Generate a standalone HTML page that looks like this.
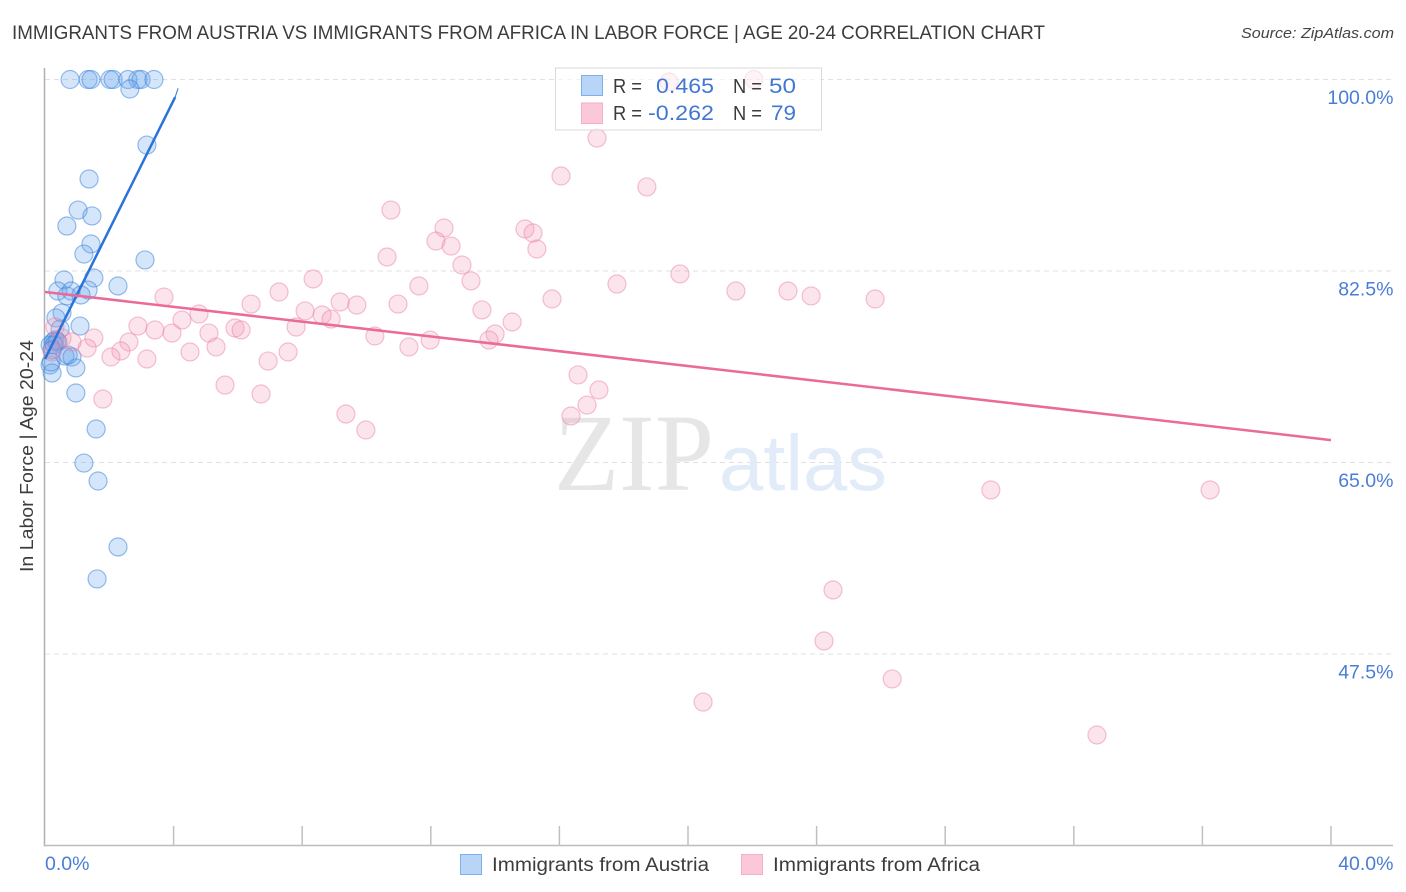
<!DOCTYPE html>
<html lang="en">
<head>
<meta charset="utf-8">
<title>Immigrants from Austria vs Immigrants from Africa in Labor Force Correlation Chart</title>
<style>
html,body{margin:0;padding:0;background:#fff;width:1406px;height:892px;overflow:hidden}
svg{display:block}
text{font-family:"Liberation Sans",sans-serif}
</style>
</head>
<body>
<svg id="chart" xmlns="http://www.w3.org/2000/svg" width="1406" height="892" viewBox="0 0 1406 892">
  <text x="12" y="39" font-size="19" fill="#3c3c3c" textLength="1033" lengthAdjust="spacingAndGlyphs">IMMIGRANTS FROM AUSTRIA VS IMMIGRANTS FROM AFRICA IN LABOR FORCE | AGE 20-24 CORRELATION CHART</text>
  <text x="1241" y="38" font-size="15" font-style="italic" fill="#444" textLength="153" lengthAdjust="spacingAndGlyphs">Source: ZipAtlas.com</text>
  <g id="grid"></g>
  <g>
    <text x="554" y="490" font-size="110" fill="#e6e6e6" style="font-family:'Liberation Serif',serif" textLength="160" lengthAdjust="spacingAndGlyphs">ZIP</text>
    <text x="719" y="490" font-size="79" fill="#e2ecf9" textLength="168" lengthAdjust="spacingAndGlyphs">atlas</text>
  </g>
  <g id="axes"></g>
  <g id="points-austria"></g>
  <g id="points-africa"></g>
  <g id="trends"></g>
  <g>
    <rect x="555.5" y="68" width="266" height="62" fill="#fff" fill-opacity="0.6" stroke="#d9d9d9" stroke-width="1"/>
    <rect x="581.5" y="75.5" width="21" height="20" fill="#b8d4f6" stroke="#7fb0ea"/>
    <rect x="581.5" y="103" width="21" height="20.5" fill="#fcc8d9" stroke="#f2afc6"/>
    <text x="613" y="93" font-size="20" fill="#3c3c3c" textLength="29" lengthAdjust="spacingAndGlyphs">R =</text>
    <text x="656" y="93" font-size="21" fill="#4277d2" textLength="58" lengthAdjust="spacingAndGlyphs">0.465</text>
    <text x="733" y="93" font-size="20" fill="#3c3c3c" textLength="29" lengthAdjust="spacingAndGlyphs">N =</text>
    <text x="769" y="93" font-size="21" fill="#4277d2" textLength="27" lengthAdjust="spacingAndGlyphs">50</text>
    <text x="613" y="120" font-size="20" fill="#3c3c3c" textLength="29" lengthAdjust="spacingAndGlyphs">R =</text>
    <text x="648" y="120" font-size="21" fill="#4277d2" textLength="66" lengthAdjust="spacingAndGlyphs">-0.262</text>
    <text x="733" y="120" font-size="20" fill="#3c3c3c" textLength="29" lengthAdjust="spacingAndGlyphs">N =</text>
    <text x="771" y="120" font-size="21" fill="#4277d2" textLength="25" lengthAdjust="spacingAndGlyphs">79</text>
  </g>
  <text transform="translate(33,456) rotate(-90)" text-anchor="middle" font-size="18" fill="#3c3c3c" textLength="232" lengthAdjust="spacingAndGlyphs">In Labor Force | Age 20-24</text>
  <g>
    <rect x="460.5" y="854.5" width="21" height="20" fill="#b8d4f6" stroke="#7fb0ea"/>
    <text x="492" y="871" font-size="19" fill="#3c3c3c" textLength="217" lengthAdjust="spacingAndGlyphs">Immigrants from Austria</text>
    <rect x="741.5" y="854.5" width="21" height="20" fill="#fcc8d9" stroke="#f2afc6"/>
    <text x="773" y="871" font-size="19" fill="#3c3c3c" textLength="207" lengthAdjust="spacingAndGlyphs">Immigrants from Africa</text>
  </g>
</svg>
<script>
const yTicks = [100, 82.5, 65, 47.5];
const yTickLabels = ["100.0%", "82.5%", "65.0%", "47.5%"];
const xTicks = [4, 8, 12, 16, 20, 24, 28, 32, 36, 40];
const xEndLabels = ["0.0%", "40.0%"];
const austriaX = [0.78,1.34,1.43,2.02,2.12,2.58,2.89,2.99,3.39,2.64,3.17,1.37,1.03,1.46,0.68,1.43,1.21,3.11,0.59,1.52,2.27,0.40,0.81,1.34,0.68,1.12,0.53,0.34,1.09,0.47,0.31,0.25,0.40,0.16,0.62,0.84,0.16,0.96,0.22,0.96,1.59,1.21,1.65,2.27,1.62,0.37,0.28,0.72,0.22,0.19];
const austriaY = [100,100,100,100,100,100,100,100,100,99.13,94.01,90.91,88.07,87.53,86.61,84.97,84.05,83.51,81.68,81.86,81.13,80.67,80.67,80.76,80.22,80.31,78.67,78.21,77.47,77.20,76.19,76.01,76.01,75.74,74.73,74.64,73.91,73.64,73.18,71.35,68.06,64.95,63.31,57.28,54.36,76.10,75.74,74.82,75.28,74.18];
const africaX = [19.41,22.05,17.17,16.05,18.72,10.76,12.41,14.93,15.18,12.16,12.63,15.30,10.64,12.97,8.34,13.25,19.75,17.79,11.63,7.28,21.49,23.11,23.83,25.82,15.77,3.70,6.41,9.18,9.70,10.98,13.59,8.09,4.79,8.62,8.90,4.26,14.53,2.89,7.81,3.42,3.95,5.91,6.10,5.10,10.26,14.00,13.81,11.98,2.61,1.52,1.31,11.32,5.32,7.56,2.36,4.51,3.17,2.05,6.94,16.58,5.60,17.23,6.72,1.80,16.86,16.36,9.36,9.98,29.42,36.24,24.51,24.23,26.35,20.47,32.72,0.31,0.53,0.84,0.22];
const africaY = [99.77,100,94.65,91.18,90.18,88.07,86.43,86.34,85.97,85.24,84.78,84.51,83.78,83.05,81.77,81.59,82.23,81.31,81.13,80.58,80.67,80.67,80.22,79.94,79.94,80.12,79.48,79.67,79.39,79.48,78.94,78.85,78.57,78.48,78.11,78.02,77.84,77.47,77.38,77.11,76.83,77.29,77.11,76.83,76.56,76.74,76.19,76.19,76.01,76.38,75.46,75.56,75.56,75.10,75.19,75.10,74.46,74.64,74.27,73.00,72.08,71.63,71.26,70.80,70.25,69.25,69.43,67.97,62.49,62.49,53.35,48.69,45.22,43.11,40.10,77.38,76.38,76.01,75.10];
const austriaTrendX = [0, 4.05];
const austriaTrendY = [74.46, 98.4];
const austriaTrendThinX = [4.05, 4.14];
const austriaTrendThinY = [98.4, 99.2];
const africaTrendX = [0, 40];
const africaTrendY = [80.58, 67.05];

const NS = "http://www.w3.org/2000/svg";
function xScale(v) { return 45 + v * 32.15; }
function yScale(v) { return 79.5 + (100 - v) * 10.943; }
function make(tag, attrs, parent) {
  const el = document.createElementNS(NS, tag);
  for (const k in attrs) el.setAttribute(k, attrs[k]);
  parent.appendChild(el);
  return el;
}

const grid = document.getElementById("grid");
const axes = document.getElementById("axes");
yTicks.forEach(function (t, i) {
  const line = make("line", {x1: 45, x2: 1393, y1: yScale(t), y2: yScale(t), stroke: "#e0e0e0", "stroke-width": 1, "stroke-dasharray": "5 4"}, grid);
  
  
  const label = make("text", {x: 1393.5, y: yScale(t) + 24.5, "text-anchor": "end", "font-size": 19.5, fill: "#4a7dd5"}, axes);
  
  
  label.textContent = yTickLabels[i];
});
const yAxis = make("line", {x1: 44.5, x2: 44.5, y1: 68, y2: 846.5, stroke: "#b0b0b0", "stroke-width": 1.5}, axes);


const xAxis = make("line", {x1: 44, x2: 1393, y1: 845.5, y2: 845.5, stroke: "#bcbcbc", "stroke-width": 1.5}, axes);


xTicks.forEach(function (t) {
  const tick = make("line", {x1: xScale(t), x2: xScale(t), y1: 826, y2: 846, stroke: "#c0c0c0", "stroke-width": 1.5}, axes);
  
  
});
const xStart = make("text", {x: 45, y: 870, "font-size": 19.5, fill: "#4a7dd5"}, axes);


xStart.textContent = xEndLabels[0];
const xEnd = make("text", {x: 1393.5, y: 870, "text-anchor": "end", "font-size": 19.5, fill: "#4a7dd5"}, axes);


xEnd.textContent = xEndLabels[1];

const gA = document.getElementById("points-austria");
austriaX.forEach(function (x, i) {
  const c = make("circle", {cx: xScale(x), cy: yScale(austriaY[i]), r: 9, fill: "#6aa5ec", "fill-opacity": 0.28, stroke: "#3f86dc", "stroke-opacity": 0.55, "stroke-width": 1.2}, gA);
  
  
});
const gB = document.getElementById("points-africa");
africaX.forEach(function (x, i) {
  const c = make("circle", {cx: xScale(x), cy: yScale(africaY[i]), r: 9, fill: "#f59ab9", "fill-opacity": 0.27, stroke: "#e77fa5", "stroke-opacity": 0.48, "stroke-width": 1.2}, gB);
  
  
});

const gT = document.getElementById("trends");
const tA = make("line", {x1: xScale(austriaTrendX[0]), y1: yScale(austriaTrendY[0]), x2: xScale(austriaTrendX[1]), y2: yScale(austriaTrendY[1]), stroke: "#2a74d8", "stroke-width": 2.5}, gT);


const tA2 = make("line", {x1: xScale(austriaTrendThinX[0]), y1: yScale(austriaTrendThinY[0]), x2: xScale(austriaTrendThinX[1]), y2: yScale(austriaTrendThinY[1]), stroke: "#2a74d8", "stroke-width": 1}, gT);


const tB = make("line", {x1: xScale(africaTrendX[0]), y1: yScale(africaTrendY[0]), x2: xScale(africaTrendX[1]), y2: yScale(africaTrendY[1]), stroke: "#ea6a9a", "stroke-width": 2.5}, gT);


</script>
</body>
</html>
